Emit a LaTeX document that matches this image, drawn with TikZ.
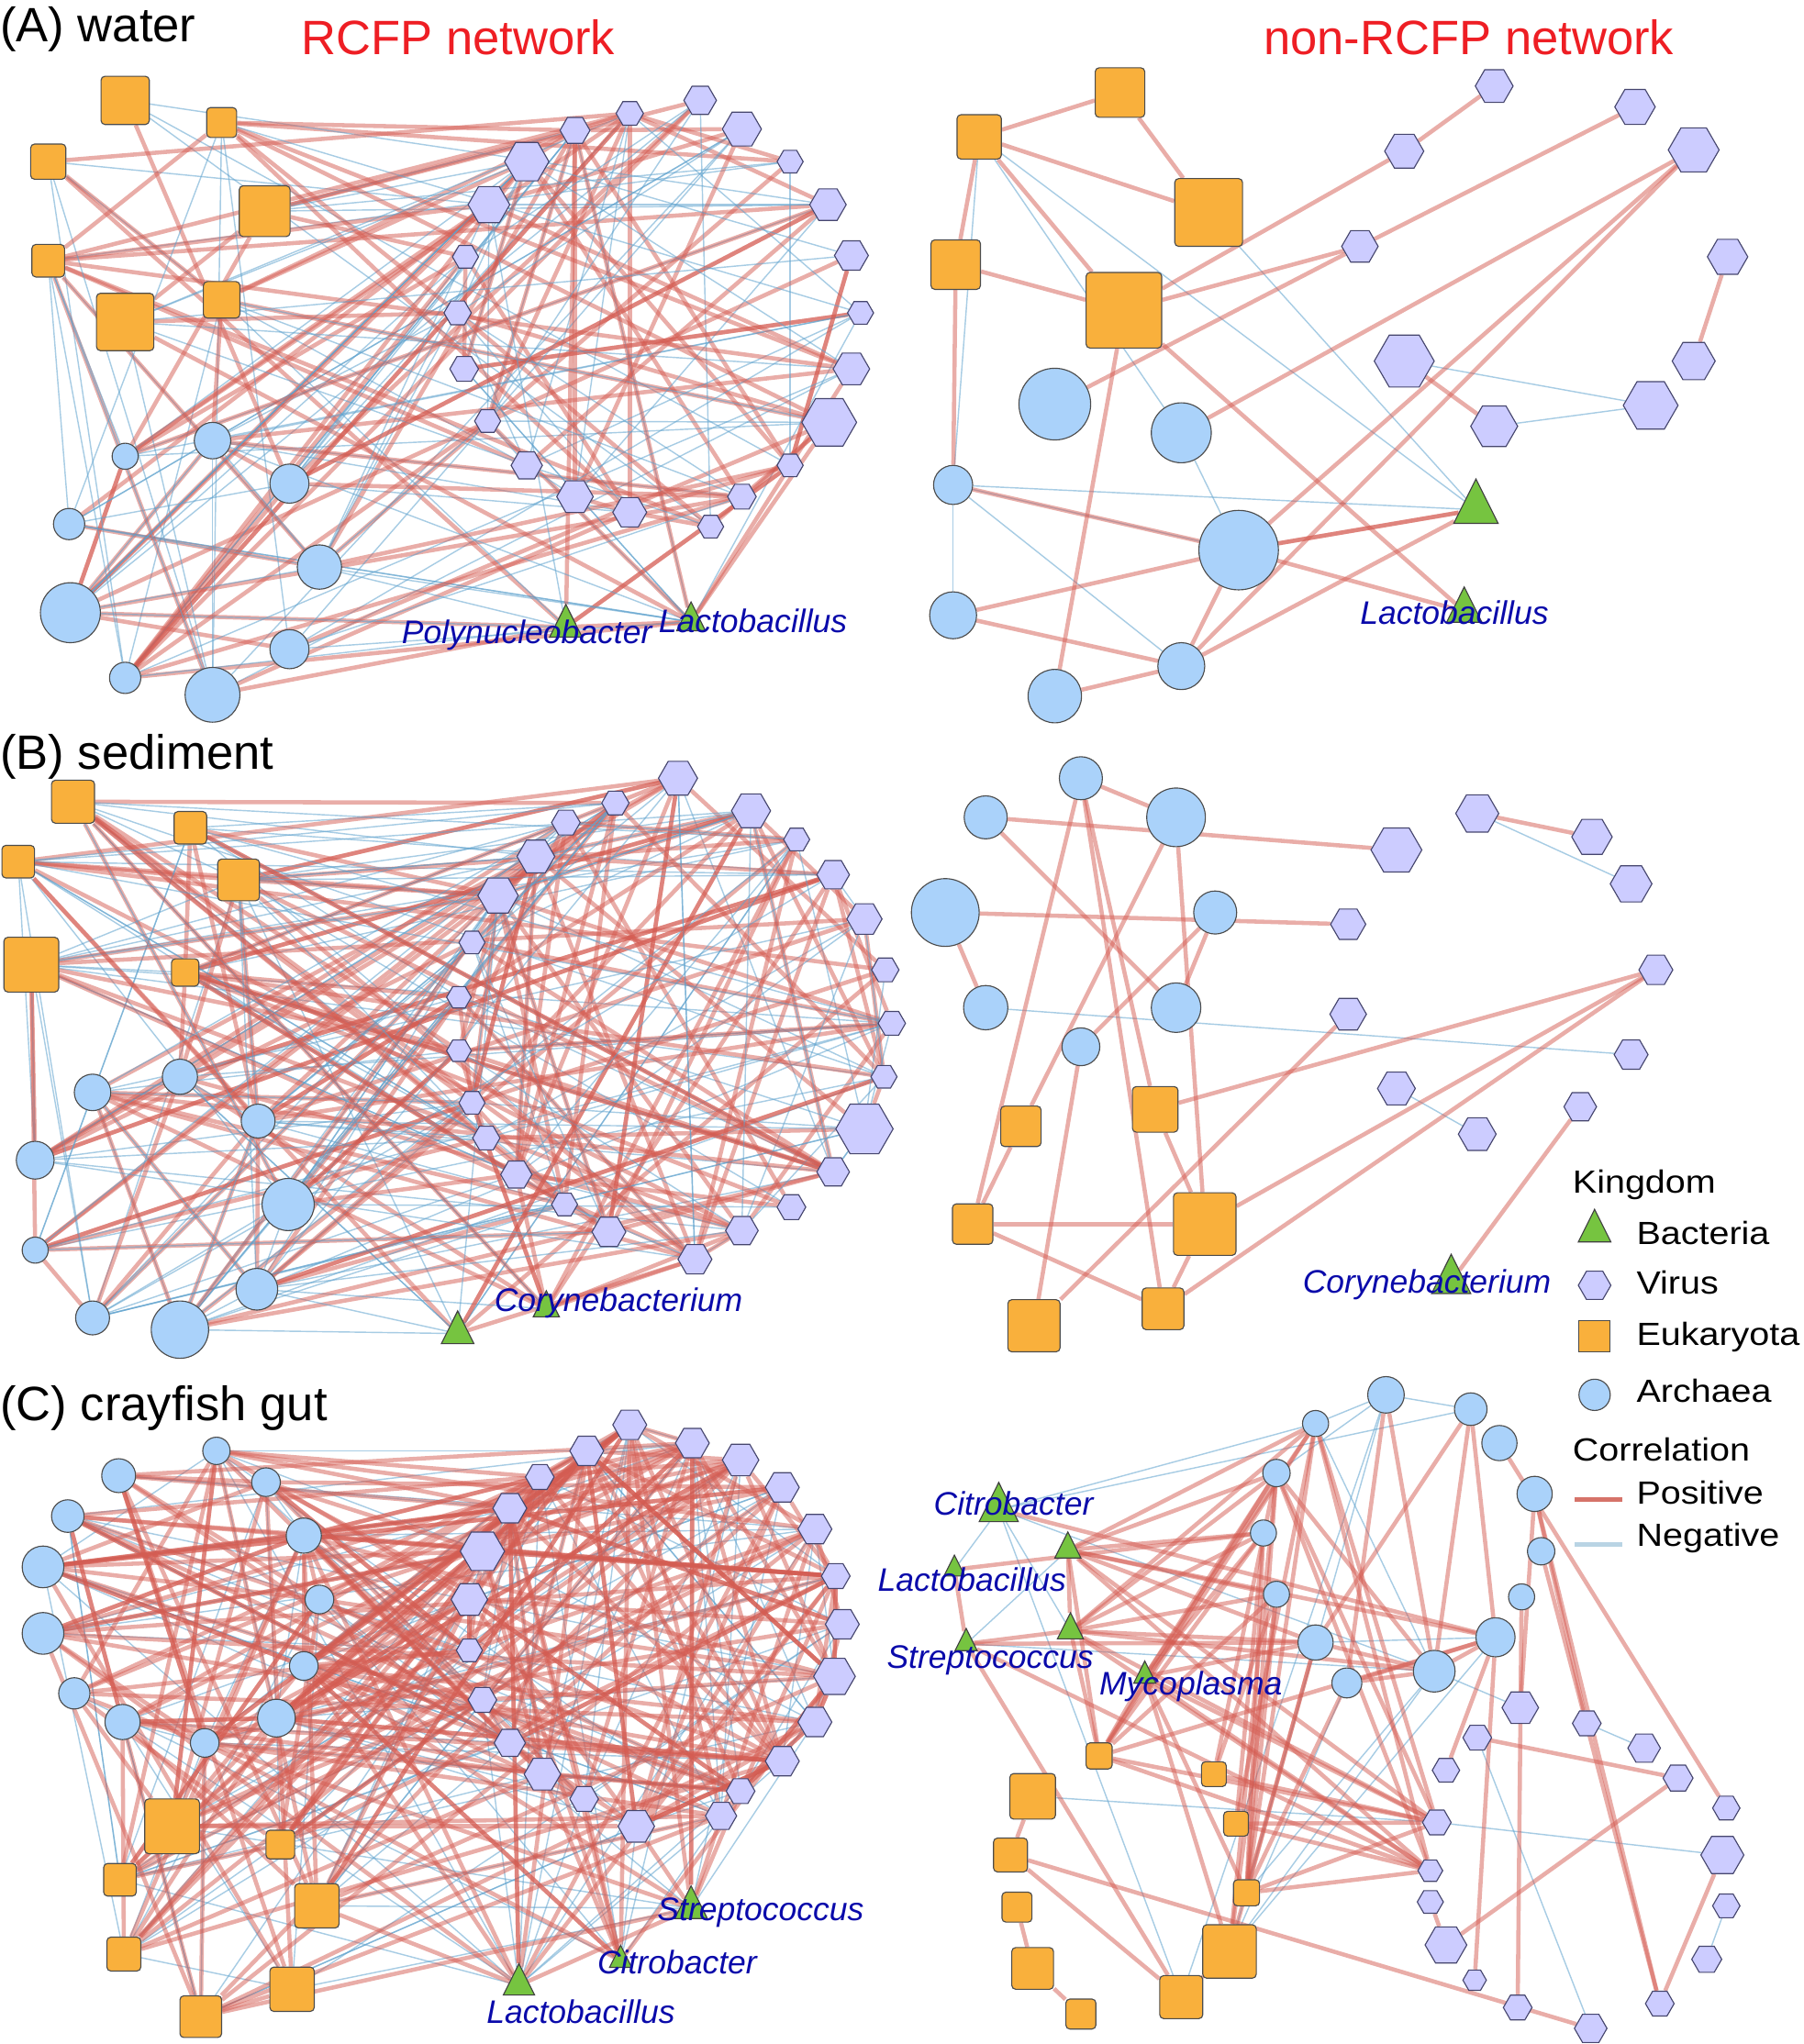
\documentclass[tikz,border=0pt]{standalone}
\usepackage{fontspec}
\setmainfont{Liberation Sans}
\newfontfamily\legfamily[FakeStretch=1.13]{Liberation Sans}
\usetikzlibrary{shapes.geometric}
\pgfdeclarelayer{bg}
\pgfsetlayers{bg,main}
\definecolor{eukc}{RGB}{249,176,60}
\definecolor{archc}{RGB}{170,210,250}
\definecolor{virc}{RGB}{204,204,255}
\definecolor{virl}{RGB}{70,70,110}
\definecolor{bacc}{RGB}{118,196,64}
\definecolor{posc}{RGB}{212,92,82}
\definecolor{negc}{RGB}{95,162,205}
\definecolor{labc}{RGB}{10,10,170}
\definecolor{headc}{RGB}{238,30,36}
\definecolor{legpos}{RGB}{214,115,105}
\definecolor{legneg}{RGB}{185,212,228}
\newcommand{\headfont}{\fontsize{37}{42}\selectfont}
\newcommand{\labfont}{\fontsize{25}{30}\selectfont\itshape}
\newcommand{\legfont}{\legfamily\fontsize{24.6}{28}\selectfont}
\tikzset{
  euk/.style={rectangle, rounded corners=3pt, draw=black!70, fill=eukc, inner sep=0pt, line width=.8pt},
  arch/.style={circle, draw=black!70, fill=archc, inner sep=0pt, line width=.8pt},
  vir/.style={regular polygon, regular polygon sides=6, draw=virl, fill=virc, inner sep=0pt, line width=.8pt},
  bac/.style={isosceles triangle, isosceles triangle apex angle=53, shape border rotate=90, draw=black!75, fill=bacc, inner sep=0pt, line width=.8pt},
  poslink/.style={draw=posc, line width=3.2pt, opacity=.5},
  neglink/.style={draw=negc, line width=1pt, opacity=.55},
  head/.style={font=\headfont, anchor=base west, inner sep=0pt},
  lab/.style={font=\labfont, text=labc, anchor=base west, inner sep=0pt},
  leg/.style={font=\legfont, anchor=base west, inner sep=0pt}
}
\begin{document}
\begin{tikzpicture}[x=1pt,y=-1pt]
\useasboundingbox (0,0) rectangle (1383,1568);

% titles
\node[head] (tA) at (0,32) {(A) water};
\node[head] (tB) at (0,590) {(B) sediment};
\node[head] (tC) at (0,1090) {(C) crayfish gut};
\node[head, text=headc] (tR) at (231,42) {RCFP network};
\node[head, text=headc] (tN) at (969,42) {non-RCFP network};

% (A) water, RCFP network
\foreach \x/\y/\s [count=\i] in {96/77/37, 170/94/23, 37/124/27, 203/162/39, 37/200/25, 170/230/28, 96/247/44}
  \node[euk, minimum size=\s] (rw\i) at (\x,\y) {};
\foreach \x/\y/\s [count=\i from 8] in {96/350/20, 163/338/28, 222/371/30, 53/402/24, 245/435/34, 54/470/46, 222/498/30, 96/520/24, 163/533/42}
  \node[arch, minimum size=\s] (rw\i) at (\x,\y) {};
\foreach \x/\y/\s [count=\i from 17] in {434/481/25, 530/477/22}
  \node[bac, minimum size=\s] (rw\i) at (\x,\y) {};
\foreach \x/\y/\s [count=\i from 19] in {537/77/25, 483/87/21, 441/100/23, 569/99/30, 404/124/34, 606/124/20, 375/157/32, 635/157/28, 357/197/20, 653/196/26, 351/240/21, 660/240/20, 356/283/22, 653/283/28, 374/323/20, 636/324/42, 404/357/24, 606/357/20, 441/381/28, 483/393/26, 569/381/22, 545/404/20}
  \node[vir, minimum size=\s] (rw\i) at (\x,\y) {};
\begin{pgfonlayer}{bg}
\pgfmathsetseed{3}
\foreach \k in {1,...,110}{
  \pgfmathtruncatemacro\p{random(1,40)}
  \pgfmathtruncatemacro\q{random(1,40)}
  \ifnum\p=\q\else\draw[poslink] (rw\p) -- (rw\q);\fi
  \pgfmathtruncatemacro\p{random(1,40)}
  \pgfmathtruncatemacro\q{random(1,40)}
  \ifnum\p=\q\else\draw[neglink] (rw\p) -- (rw\q);\fi
}
\end{pgfonlayer}
\node[lab] (lw1) at (308,494) {Polynucleobacter};
\node[lab] (lw2) at (505,485) {Lactobacillus};

% (A) water, non-RCFP network
\foreach \n/\x/\y/\s in {1/751/105/34, 2/859/71/38, 3/927/163/52, 4/733/203/38, 5/862/238/58}
  \node[euk, minimum size=\s] (nwE\n) at (\x,\y) {};
\foreach \n/\x/\y/\s in {1/809/310/55, 2/906/332/46, 3/731/372/30, 4/950/422/61, 5/731/472/36, 6/906/511/36, 7/809/534/41}
  \node[arch, minimum size=\s] (nwA\n) at (\x,\y) {};
\foreach \n/\x/\y/\s in {1/1146/66/29, 2/1254/82/31, 3/1077/116/30, 4/1299/115/39, 5/1043/189/28, 6/1325/197/31, 7/1077/277/46, 8/1299/277/33, 9/1146/327/36, 10/1266/311/42}
  \node[vir, minimum size=\s] (nwV\n) at (\x,\y) {};
\node[bac, minimum size=34] (nwB1) at (1132,391) {};
\node[bac, minimum size=27] (nwB2) at (1123,469) {};
\begin{pgfonlayer}{bg}
\foreach \u/\v in {nwE1/nwA3, nwE1/nwB1, nwE1/nwA2, nwE3/nwB1, nwV7/nwV10, nwV9/nwV10, nwA3/nwB1, nwA3/nwA4, nwA3/nwA5, nwA3/nwA6, nwA2/nwA4}
  \draw[neglink] (\u) -- (\v);
\foreach \u/\v in {nwE1/nwE2, nwE2/nwE3, nwE1/nwE3, nwE1/nwE4, nwE1/nwE5, nwE4/nwE5, nwE4/nwA3, nwE5/nwB2, nwE5/nwV5, nwV3/nwE5, nwV5/nwV2, nwV5/nwA1, nwV3/nwV1, nwV4/nwA2, nwV4/nwA4, nwV4/nwA6, nwV6/nwV8, nwV7/nwV9, nwA3/nwA4, nwA4/nwB1, nwA4/nwB1, nwA4/nwB2, nwA4/nwA5, nwA4/nwA6, nwA5/nwA6, nwA6/nwA7, nwA6/nwB1, nwE5/nwA7}
  \draw[poslink] (\u) -- (\v);
\end{pgfonlayer}
\node[lab] (lw3) at (1043,479) {Lactobacillus};

% (B) sediment, RCFP network
\foreach \x/\y/\s [count=\i] in {56/615/33, 146/635/25, 14/661/25, 183/675/32, 24/740/42, 142/746/21}
  \node[euk, minimum size=\s] (rs\i) at (\x,\y) {};
\foreach \x/\y/\s [count=\i from 7] in {71/838/28, 138/826/27, 198/860/26, 27/890/29, 221/924/40, 27/959/20, 197/989/32, 71/1011/26, 138/1020/44}
  \node[arch, minimum size=\s] (rs\i) at (\x,\y) {};
\foreach \x/\y/\s [count=\i from 16] in {351/1023/25, 419/1004/20}
  \node[bac, minimum size=\s] (rs\i) at (\x,\y) {};
\foreach \x/\y/\s [count=\i from 18] in {520/597/30, 472/616/21, 434/631/22, 576/622/30, 411/657/29, 611/644/20, 382/687/31, 639/671/25, 663/705/27, 362/723/20, 679/744/21, 684/785/21, 352/765/19, 352/806/19, 678/826/20, 362/846/20, 663/866/44, 373/873/21, 639/899/25, 396/901/24, 607/926/22, 433/924/20, 569/944/25, 467/945/26, 533/966/26}
  \node[vir, minimum size=\s] (rs\i) at (\x,\y) {};
\begin{pgfonlayer}{bg}
\pgfmathsetseed{17}
\foreach \k in {1,...,165}{
  \pgfmathtruncatemacro\p{random(1,42)}
  \pgfmathtruncatemacro\q{random(1,42)}
  \ifnum\p=\q\else\draw[poslink] (rs\p) -- (rs\q);\fi
  \pgfmathtruncatemacro\p{random(1,42)}
  \pgfmathtruncatemacro\q{random(1,42)}
  \ifnum\p=\q\else\draw[neglink] (rs\p) -- (rs\q);\fi
}
\end{pgfonlayer}
\node[lab] (ls1) at (379,1006) {Corynebacterium};

% (B) sediment, non-RCFP network
\foreach \n/\x/\y/\s in {1/829/597/33, 2/756/627/33, 3/902/627/45, 4/725/700/52, 5/932/700/33, 6/756/773/34, 7/902/773/38, 8/829/803/29}
  \node[arch, minimum size=\s] (nsA\n) at (\x,\y) {};
\foreach \n/\x/\y/\s in {1/783/864/31, 2/886/851/35, 3/746/939/31, 4/924/939/48, 5/793/1017/40, 6/892/1004/32}
  \node[euk, minimum size=\s] (nsE\n) at (\x,\y) {};
\foreach \n/\x/\y/\s in {1/1133/624/33, 2/1071/652/39, 3/1221/642/31, 4/1251/678/32, 5/1034/709/27, 6/1270/744/26, 7/1034/778/28, 8/1251/809/26, 9/1071/835/29, 10/1212/849/25, 11/1133/870/29}
  \node[vir, minimum size=\s] (nsV\n) at (\x,\y) {};
\node[bac, minimum size=30] (nsB1) at (1113,983) {};
\begin{pgfonlayer}{bg}
\foreach \u/\v in {nsA6/nsV8, nsV1/nsV4, nsV9/nsV11}
  \draw[neglink] (\u) -- (\v);
\foreach \u/\v in {nsA1/nsA3, nsA2/nsV2, nsA2/nsA7, nsA4/nsV5, nsA4/nsA6, nsA1/nsE3, nsA1/nsE2, nsA1/nsE6, nsA3/nsE1, nsE1/nsE3, nsA3/nsE4, nsA5/nsA8, nsA5/nsA7, nsA8/nsE5, nsE2/nsV6, nsE4/nsV6, nsE6/nsV6, nsE3/nsE4, nsE3/nsE6, nsE4/nsE6, nsE5/nsV7, nsE2/nsE4, nsV1/nsV3, nsV10/nsB1}
  \draw[poslink] (\u) -- (\v);
\end{pgfonlayer}
\node[lab] (ls2) at (999,992) {Corynebacterium};

% (C) crayfish gut, RCFP network
\foreach \x/\y/\s [count=\i] in {166/1113/21, 91/1132/26, 204/1137/22, 52/1163/25, 233/1178/27, 33/1202/32, 245/1227/22, 33/1253/32, 233/1278/22, 57/1299/24, 94/1321/27, 212/1318/29, 157/1337/22}
  \node[arch, minimum size=\s] (rg\i) at (\x,\y) {};
\foreach \x/\y/\s [count=\i from 14] in {132/1401/42, 215/1415/22, 92/1442/25, 243/1462/34, 95/1499/26, 224/1526/34, 154/1547/32}
  \node[euk, minimum size=\s] (rg\i) at (\x,\y) {};
\foreach \x/\y/\s [count=\i from 21] in {398/1523/24, 476/1504/17, 530/1464/25}
  \node[bac, minimum size=\s] (rg\i) at (\x,\y) {};
\foreach \x/\y/\s [count=\i from 24] in {483/1093/26, 531/1107/26, 450/1113/26, 568/1120/28, 414/1133/22, 600/1141/26, 391/1157/26, 625/1173/26, 370/1190/34, 641/1209/22, 360/1227/28, 646/1246/26, 360/1266/20, 640/1286/32, 370/1304/22, 625/1321/26, 391/1337/24, 600/1351/26, 416/1361/28, 568/1374/22, 448/1380/22, 553/1393/24, 488/1401/28}
  \node[vir, minimum size=\s] (rg\i) at (\x,\y) {};
\begin{pgfonlayer}{bg}
\pgfmathsetseed{29}
\foreach \k in {1,...,150}{
  \pgfmathtruncatemacro\p{random(1,46)}
  \pgfmathtruncatemacro\q{random(1,46)}
  \ifnum\p=\q\else\draw[neglink] (rg\p) -- (rg\q);\fi
}
\foreach \k in {1,...,280}{
  \pgfmathtruncatemacro\p{random(1,46)}
  \pgfmathtruncatemacro\q{random(1,46)}
  \ifnum\p=\q\else\draw[poslink] (rg\p) -- (rg\q);\fi
}
\end{pgfonlayer}
\node[lab] (lg1) at (504,1473) {Streptococcus};
\node[lab] (lg2) at (458,1514) {Citrobacter};
\node[lab] (lg3) at (373,1552) {Lactobacillus};

% (C) crayfish gut, non-RCFP network
\foreach \n/\x/\y/\s in {1/1063/1070/28, 2/1128/1081/25, 3/1009/1092/20, 4/1150/1107/27, 5/979/1130/21, 6/1177/1146/27, 7/969/1176/20, 8/1182/1190/21, 9/979/1223/20, 10/1167/1225/20, 11/1009/1260/27, 12/1147/1256/30, 13/1033/1291/23, 14/1100/1282/32}
  \node[arch, minimum size=\s] (ngA\n) at (\x,\y) {};
\foreach \n/\x/\y/\s in {1/766/1158/30, 2/819/1189/20, 3/732/1204/16, 4/821/1251/20, 5/741/1261/17, 6/878/1286/17}
  \node[bac, minimum size=\s] (ngB\n) at (\x,\y) {};
\foreach \n/\x/\y/\s in {1/843/1347/20, 2/931/1361/19, 3/792/1378/35, 4/948/1399/19, 5/775/1423/26, 6/956/1452/20, 7/780/1463/23, 8/943/1497/41, 9/792/1510/32, 10/906/1532/33, 11/829/1545/23}
  \node[euk, minimum size=\s] (ngE\n) at (\x,\y) {};
\foreach \n/\x/\y/\s in {1/1166/1310/28, 2/1217/1322/22, 3/1133/1333/22, 4/1261/1341/25, 5/1109/1358/21, 6/1287/1364/23, 7/1324/1387/21, 8/1102/1398/22, 9/1321/1423/33, 10/1097/1435/19, 11/1097/1459/20, 12/1324/1462/21, 13/1109/1492/32, 14/1309/1503/23, 15/1131/1519/18, 16/1273/1537/22, 17/1164/1540/22, 18/1220/1556/25}
  \node[vir, minimum size=\s] (ngV\n) at (\x,\y) {};
\begin{pgfonlayer}{bg}
\foreach \u/\v in {ngA1/ngA2, ngA1/ngA3, ngA1/ngA5, ngA2/ngB1, ngA1/ngE8, ngA1/ngE10, ngA3/ngA14, ngA14/ngV1, ngB1/ngB3, ngB1/ngB4, ngB1/ngE10, ngB1/ngA3, ngB1/ngA14, ngB5/ngA14, ngB2/ngB5, ngE3/ngV8, ngV8/ngV9, ngE8/ngA13, ngE8/ngA14, ngE6/ngA14, ngV2/ngV4, ngV3/ngV18, ngV12/ngV14, ngE8/ngA12, ngA11/ngA12}
  \draw[neglink] (\u) -- (\v);
\foreach \u/\v in {ngB1/ngA12, ngB3/ngB5, ngB3/ngA7,
  ngB2/ngA3, ngB2/ngA5, ngB2/ngA7, ngB2/ngA9, ngB2/ngA11, ngB2/ngA12, ngB2/ngV8, ngB2/ngV10, ngB2/ngB4, ngB2/ngE1,
  ngB4/ngA3, ngB4/ngA5, ngB4/ngA7, ngB4/ngA9, ngB4/ngA11, ngB4/ngV8, ngB4/ngV10, ngB4/ngE1, ngB4/ngB5, ngB4/ngA14,
  ngB5/ngA11, ngB5/ngV10, ngB5/ngE10,
  ngB6/ngV8, ngB6/ngV10, ngB6/ngE6, ngB6/ngE8, ngB6/ngA3, ngB6/ngA5, ngB6/ngA7, ngB6/ngA11, ngB6/ngE1,
  ngE1/ngA3, ngE1/ngA5, ngE1/ngA7, ngE1/ngA9, ngE1/ngV8, ngE1/ngV10, ngE1/ngA12,
  ngE2/ngV8, ngE2/ngA5, ngE2/ngA9, ngE4/ngV8, ngE4/ngA3, ngE4/ngA7, ngE4/ngV10,
  ngE6/ngA3, ngE6/ngA5, ngE6/ngA7, ngE6/ngA9, ngE6/ngV10, ngE6/ngV8, ngE6/ngA11, ngE6/ngA13,
  ngE8/ngA9, ngE8/ngA11, ngE8/ngA5, ngE8/ngE10, ngE3/ngE5, ngE5/ngE10, ngE5/ngV18, ngE7/ngE9, ngE9/ngE11,
  ngV1/ngA6, ngV2/ngA6, ngV3/ngV6, ngV5/ngA12, ngV7/ngA4, ngV9/ngV16, ngV13/ngV6, ngV11/ngV13, ngV15/ngA12, ngV17/ngA10, ngV16/ngA8, ngV16/ngA6,
  ngA1/ngA14, ngA1/ngA13, ngA2/ngA11, ngA2/ngA14, ngA2/ngA12, ngA3/ngV8, ngA3/ngV10, ngA5/ngV8, ngA5/ngV10, ngA5/ngA14, ngA13/ngA14, ngA11/ngA14, ngA12/ngA14, ngA13/ngA12}
  \draw[poslink] (\u) -- (\v);
\end{pgfonlayer}
\node[lab] (lg4) at (716,1162) {Citrobacter};
\node[lab] (lg5) at (673,1221) {Lactobacillus};
\node[lab] (lg6) at (680,1280) {Streptococcus};
\node[lab] (lg7) at (843,1300) {Mycoplasma};

% legend
\node[leg] (kTitle) at (1206,915) {Kingdom};
\node[bac, minimum size=25] (kBac) at (1223,945) {};
\node[leg] (kBacT) at (1255,955) {Bacteria};
\node[vir, minimum size=25] (kVir) at (1223,986) {};
\node[leg] (kVirT) at (1255,993) {Virus};
\node[euk, rounded corners=0pt, minimum size=24] (kEuk) at (1223,1025) {};
\node[leg] (kEukT) at (1255,1032) {Eukaryota};
\node[arch, minimum size=24] (kArch) at (1223,1070) {};
\node[leg] (kArchT) at (1255,1076) {Archaea};
\node[leg] (cTitle) at (1206,1121) {Correlation};
\coordinate (cP1) at (1208,1150);
\coordinate (cP2) at (1244,1150);
\draw[legpos, line width=3.5pt] (cP1) -- (cP2);
\node[leg] (cPosT) at (1255,1154) {Positive};
\coordinate (cN1) at (1208,1185);
\coordinate (cN2) at (1244,1185);
\draw[legneg, line width=3.5pt] (cN1) -- (cN2);
\node[leg] (cNegT) at (1255,1186) {Negative};
\end{tikzpicture}
\end{document}
